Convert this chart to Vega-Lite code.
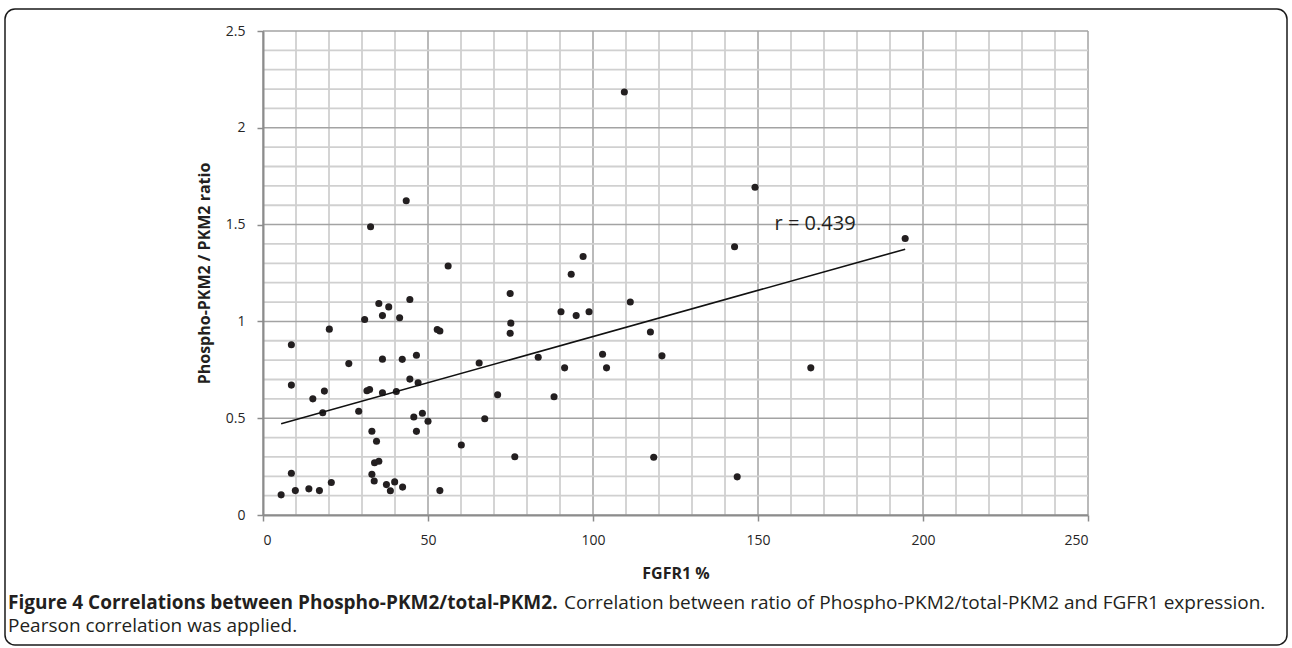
{
  "$schema": "https://vega.github.io/schema/vega-lite/v6.json",
  "width": 1282,
  "height": 636,
  "autosize": {"type": "none"},
  "padding": {"left": 5, "top": 9, "right": 5, "bottom": 3},
  "background": "white",
  "config": {
    "view": {"stroke": "#1a1a1a", "strokeWidth": 1.5, "cornerRadius": 10},
    "font": "Open Sans"
  },
  "datasets": {
    "gridx": [{"gx":0},{"gx":10},{"gx":20},{"gx":30},{"gx":40},{"gx":50},{"gx":60},{"gx":70},{"gx":80},{"gx":90},{"gx":100},{"gx":110},{"gx":120},{"gx":130},{"gx":140},{"gx":150},{"gx":160},{"gx":170},{"gx":180},{"gx":190},{"gx":200},{"gx":210},{"gx":220},{"gx":230},{"gx":240},{"gx":250}],
    "gridy": [{"gy":0},{"gy":0.1},{"gy":0.2},{"gy":0.3},{"gy":0.4},{"gy":0.5},{"gy":0.6},{"gy":0.7},{"gy":0.8},{"gy":0.9},{"gy":1},{"gy":1.1},{"gy":1.2},{"gy":1.3},{"gy":1.4},{"gy":1.5},{"gy":1.6},{"gy":1.7},{"gy":1.8},{"gy":1.9},{"gy":2},{"gy":2.1},{"gy":2.2},{"gy":2.3},{"gy":2.4},{"gy":2.5}]
  },
  "title": {
    "text": "Figure 4 Correlations between Phospho-PKM2/total-PKM2.",
    "subtitle": ["\u200b\u2003\u2003\u2003\u2003\u2003\u2003\u2003\u2003\u2003\u2003\u2003\u2003\u2003\u2003\u2003\u2003\u2003\u2003\u2003\u2003\u2003\u2003\u2003\u2003\u2003\u2003\u2003\u2003\u2003\u00a0Correlation between ratio of Phospho-PKM2/total-PKM2 and FGFR1 expression.", "Pearson correlation was applied."],
    "orient": "bottom",
    "anchor": "start",
    "frame": "group",
    "offset": -51,
    "dx": 3,
    "font": "Open Sans",
    "fontSize": 19,
    "fontWeight": "bold",
    "color": "#231f20",
    "subtitleFont": "Open Sans",
    "subtitleFontSize": 19,
    "subtitleFontWeight": "normal",
    "subtitleColor": "#231f20",
    "subtitleLineHeight": 23,
    "subtitlePadding": -19
  },
  "layer": [
    {
      "data": {"name": "gridx"},
      "mark": {"type": "rule"},
      "encoding": {
        "x": {"field": "gx", "type": "quantitative"},
        "y": {"datum": 0},
        "y2": {"datum": 2.5},
        "color": {"condition": {"test": "datum.gx % 50 === 0", "value": "#a3a3a3"}, "value": "#d0d0d0"},
        "strokeWidth": {"condition": {"test": "datum.gx % 50 === 0", "value": 1.5}, "value": 1.8}
      }
    },
    {
      "data": {"name": "gridy"},
      "mark": {"type": "rule"},
      "encoding": {
        "y": {"field": "gy", "type": "quantitative"},
        "x": {"datum": 0},
        "x2": {"datum": 250},
        "color": {"condition": {"test": "round(datum.gy * 10) % 5 === 0", "value": "#a3a3a3"}, "value": "#d0d0d0"},
        "strokeWidth": {"condition": {"test": "round(datum.gy * 10) % 5 === 0", "value": 1.5}, "value": 1.8}
      }
    },
    {
      "data": {"name": "points", "values": [
        {"fgfr1": 5.5, "ratio": 0.104},
        {"fgfr1": 8.6, "ratio": 0.216},
        {"fgfr1": 9.8, "ratio": 0.126},
        {"fgfr1": 8.6, "ratio": 0.879},
        {"fgfr1": 8.6, "ratio": 0.671},
        {"fgfr1": 13.9, "ratio": 0.135},
        {"fgfr1": 15.1, "ratio": 0.6},
        {"fgfr1": 17.1, "ratio": 0.126},
        {"fgfr1": 18.1, "ratio": 0.528},
        {"fgfr1": 18.6, "ratio": 0.64},
        {"fgfr1": 20.1, "ratio": 0.96},
        {"fgfr1": 20.7, "ratio": 0.168},
        {"fgfr1": 26.0, "ratio": 0.782},
        {"fgfr1": 29.0, "ratio": 0.536},
        {"fgfr1": 30.8, "ratio": 1.01},
        {"fgfr1": 31.5, "ratio": 0.642},
        {"fgfr1": 32.3, "ratio": 0.648},
        {"fgfr1": 32.6, "ratio": 1.489},
        {"fgfr1": 33.0, "ratio": 0.433},
        {"fgfr1": 33.0, "ratio": 0.21},
        {"fgfr1": 33.7, "ratio": 0.176},
        {"fgfr1": 34.4, "ratio": 0.381},
        {"fgfr1": 33.8, "ratio": 0.27},
        {"fgfr1": 35.1, "ratio": 0.278},
        {"fgfr1": 35.1, "ratio": 1.092},
        {"fgfr1": 36.2, "ratio": 1.03},
        {"fgfr1": 36.2, "ratio": 0.805},
        {"fgfr1": 36.2, "ratio": 0.631},
        {"fgfr1": 37.4, "ratio": 0.157},
        {"fgfr1": 38.1, "ratio": 1.075},
        {"fgfr1": 38.6, "ratio": 0.125},
        {"fgfr1": 39.9, "ratio": 0.171},
        {"fgfr1": 40.4, "ratio": 0.638},
        {"fgfr1": 41.4, "ratio": 1.019},
        {"fgfr1": 42.2, "ratio": 0.804},
        {"fgfr1": 42.3, "ratio": 0.144},
        {"fgfr1": 43.4, "ratio": 1.623},
        {"fgfr1": 44.5, "ratio": 1.113},
        {"fgfr1": 44.5, "ratio": 0.702},
        {"fgfr1": 45.7, "ratio": 0.506},
        {"fgfr1": 46.5, "ratio": 0.825},
        {"fgfr1": 46.5, "ratio": 0.432},
        {"fgfr1": 47.0, "ratio": 0.683},
        {"fgfr1": 48.3, "ratio": 0.526},
        {"fgfr1": 50.0, "ratio": 0.484},
        {"fgfr1": 52.8, "ratio": 0.958},
        {"fgfr1": 53.6, "ratio": 0.95},
        {"fgfr1": 53.6, "ratio": 0.126},
        {"fgfr1": 56.1, "ratio": 1.286},
        {"fgfr1": 60.1, "ratio": 0.362},
        {"fgfr1": 65.5, "ratio": 0.785},
        {"fgfr1": 67.2, "ratio": 0.497},
        {"fgfr1": 71.1, "ratio": 0.621},
        {"fgfr1": 74.9, "ratio": 1.144},
        {"fgfr1": 75.1, "ratio": 0.991},
        {"fgfr1": 74.9, "ratio": 0.939},
        {"fgfr1": 76.3, "ratio": 0.301},
        {"fgfr1": 83.4, "ratio": 0.815},
        {"fgfr1": 88.2, "ratio": 0.611},
        {"fgfr1": 90.3, "ratio": 1.05},
        {"fgfr1": 91.4, "ratio": 0.76},
        {"fgfr1": 93.4, "ratio": 1.244},
        {"fgfr1": 94.9, "ratio": 1.03},
        {"fgfr1": 97.0, "ratio": 1.335},
        {"fgfr1": 98.8, "ratio": 1.05},
        {"fgfr1": 102.9, "ratio": 0.83},
        {"fgfr1": 104.1, "ratio": 0.76},
        {"fgfr1": 109.5, "ratio": 2.185},
        {"fgfr1": 111.3, "ratio": 1.1},
        {"fgfr1": 117.4, "ratio": 0.945},
        {"fgfr1": 118.4, "ratio": 0.298},
        {"fgfr1": 120.9, "ratio": 0.822},
        {"fgfr1": 142.9, "ratio": 1.386},
        {"fgfr1": 143.7, "ratio": 0.197},
        {"fgfr1": 149.1, "ratio": 1.693},
        {"fgfr1": 166.0, "ratio": 0.76},
        {"fgfr1": 194.6, "ratio": 1.428}
      ]},
      "layer": [
        {
          "mark": {"type": "point", "filled": true, "shape": "circle", "size": 50, "color": "#231f20", "opacity": 1},
          "encoding": {
            "x": {
              "field": "fgfr1", "type": "quantitative",
              "scale": {"domain": [0, 250], "range": [258, 1083], "nice": false, "zero": false},
              "axis": {
                "orient": "bottom",
                "offset": -130,
                "zindex": 1,
                "grid": false,
                "values": [0, 50, 100, 150, 200, 250],
                "tickCount": 100,
                "labelFont": "Open Sans", "labelFontSize": 14, "labelColor": "#262626",
                "labelPadding": 12, "labelOverlap": false,
                "tickSize": 6, "tickColor": "#8c8c8c", "tickWidth": 1.5,
                "domainColor": "#8c8c8c", "domainWidth": 2,
                "title": "FGFR1 %",
                "titleFont": "Open Sans", "titleFontSize": 16, "titleFontWeight": "bold", "titleColor": "#231f20",
                "titlePadding": 18
              }
            },
            "y": {
              "field": "ratio", "type": "quantitative",
              "scale": {"domain": [0, 2.5], "range": [506, 22], "nice": false, "zero": false},
              "axis": {
                "orient": "left",
                "offset": -258,
                "zindex": 1,
                "grid": false,
                "values": [0, 0.5, 1, 1.5, 2, 2.5],
                "tickCount": 100,
                "format": "~g",
                "labelFont": "Open Sans", "labelFontSize": 14, "labelColor": "#262626",
                "labelPadding": 12, "labelOverlap": false,
                "tickSize": 6, "tickColor": "#8c8c8c", "tickWidth": 1.5,
                "domainColor": "#8c8c8c", "domainWidth": 2,
                "title": "Phospho-PKM2 / PKM2 ratio",
                "titleFont": "Open Sans", "titleFontSize": 16, "titleFontWeight": "bold", "titleColor": "#231f20",
                "titlePadding": 13
              }
            }
          }
        },
        {
          "transform": [{"regression": "ratio", "on": "fgfr1"}],
          "mark": {"type": "line", "color": "#111111", "strokeWidth": 1.6},
          "encoding": {
            "x": {"field": "fgfr1", "type": "quantitative"},
            "y": {"field": "ratio", "type": "quantitative"}
          }
        }
      ]
    },
    {
      "data": {"values": [{"label": "r = 0.439", "fx": 167.3, "fy": 1.503}]},
      "mark": {"type": "text", "font": "Open Sans", "fontSize": 20, "color": "#231f20", "align": "center", "baseline": "middle"},
      "encoding": {
        "x": {"field": "fx", "type": "quantitative"},
        "y": {"field": "fy", "type": "quantitative"},
        "text": {"field": "label"}
      }
    }
  ]
}
